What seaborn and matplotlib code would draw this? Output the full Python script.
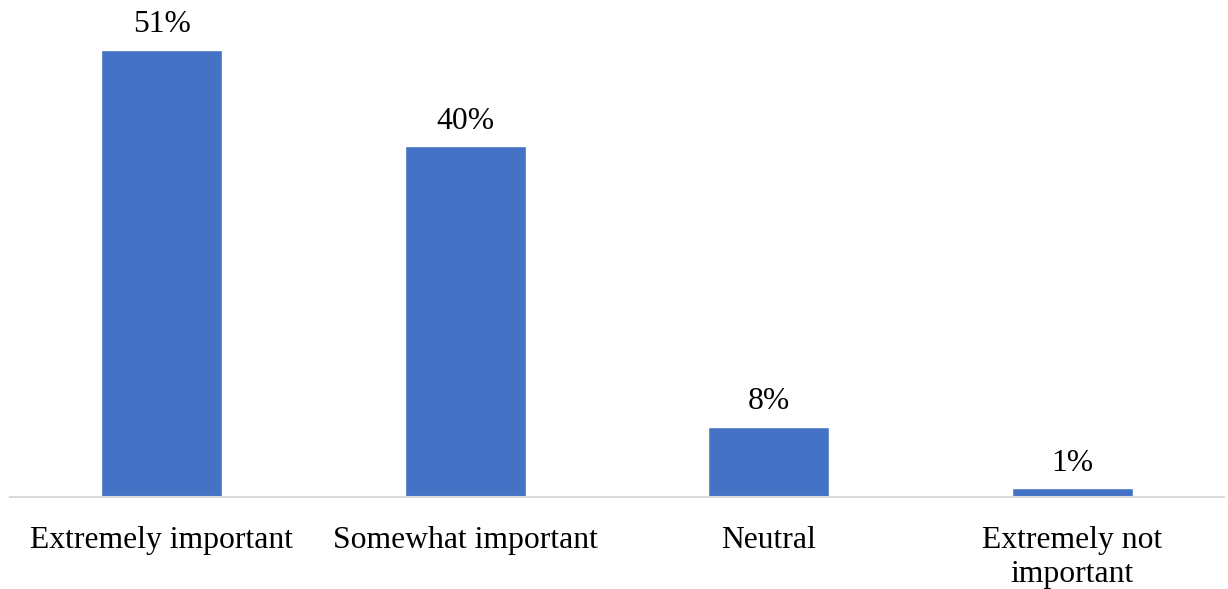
import matplotlib
matplotlib.use("Agg")
import matplotlib.pyplot as plt
import seaborn as sns
import pandas as pd

categories = ["Extremely important", "Somewhat important", "Neutral", "Extremely not\nimportant"]
shares = [51, 40, 8, 1]

df = pd.DataFrame({"category": categories, "share": shares})

sns.set_theme(style="white")
plt.rcParams["font.family"] = ["Liberation Serif", "DejaVu Serif"]

W, H = 1228, 589
fig = plt.figure(figsize=(W / 100, H / 100), dpi=100)
ax = fig.add_axes([10 / W, 92 / H, 1214 / W, 487 / H])

sns.barplot(data=df, x="category", y="share", color="#4472C4", width=0.4,
            saturation=1, ax=ax)

ax.set_xlim(-0.5, 3.5)
ax.set_ylim(0, 55.56)

for i, v in enumerate(shares):
    ax.text(i, v + 1.2, f"{v}%", ha="center", va="bottom", fontsize=22.8, color="#000000")

for s in ["top", "left", "right"]:
    ax.spines[s].set_visible(False)
ax.spines["bottom"].set_color("#D9D9D9")
ax.spines["bottom"].set_linewidth(1.5)

ax.set_yticks([])
ax.set_xlabel("")
ax.set_ylabel("")
ax.tick_params(axis="x", length=0, pad=21, labelsize=22.8, labelcolor="#000000")
for lbl in ax.get_xticklabels():
    lbl.set_linespacing(1.22)

fig.savefig("out.png", dpi=100)
